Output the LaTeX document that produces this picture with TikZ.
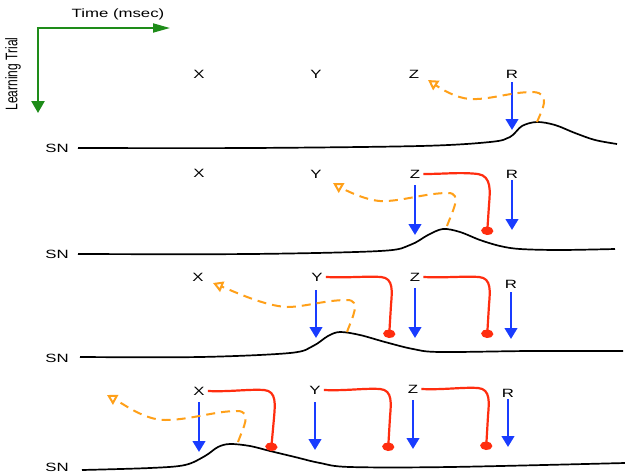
\documentclass[tikz,border=0pt]{standalone}
\usepackage{fontspec}
\setmainfont{Liberation Sans}
\usetikzlibrary{arrows.meta}
\definecolor{ablue}{RGB}{25,60,255}
\definecolor{ared}{RGB}{255,45,15}
\definecolor{aorange}{RGB}{255,160,25}
\definecolor{agreen}{RGB}{30,140,25}
\newcommand{\wide}[1]{\scalebox{1.4}[1]{#1}}
\begin{document}
\begin{tikzpicture}[x=1pt,y=-1pt,
 lbl/.style={inner sep=0pt, font=\fontsize{12}{14}\selectfont},
 excit/.style={ablue, line width=2.6pt, -{Triangle[width=12.5pt,length=11pt]}},
 inhib/.style={ared, line width=2.2pt, -{Circle[width=12pt,length=8.5pt]}},
 trace/.style={aorange, line width=2pt, dash pattern=on 9pt off 6pt, -{Triangle[open,width=11pt,length=10pt]}},
 snline/.style={black, line width=1.7pt},
 haxis/.style={agreen, line width=1.8pt, -{Triangle[width=9pt,length=17pt]}},
 vaxis/.style={agreen, line width=2.5pt, -{Triangle[width=13pt,length=12pt]}}]
\fill[white] (0,0) rectangle (625,475);
\useasboundingbox (0,0) rectangle (625,475);

% axes
\coordinate (orig) at (38,28);
\coordinate (tend) at (170,28);
\coordinate (lend) at (38,113);
\draw[haxis] ([xshift=-1.25pt]orig) -- (tend);
\draw[vaxis] (orig) -- (lend);
\node[lbl] (time) at (118,14) {\wide{Time (msec)}};
\node[lbl, rotate=90] (trial) at (13,74) {\scalebox{1}[1.4]{Learning Trial}};

% ---------- panel 1 ----------
\node[lbl] (aX) at (199,74) {\wide{X}};
\node[lbl] (aY) at (316,74) {\wide{Y}};
\node[lbl] (aZ) at (414,74) {\wide{Z}};
\node[lbl] (aR) at (512,74) {\wide{R}};
\node[lbl] (aSN) at (57,148) {\wide{SN}};
\draw[snline] plot[smooth,tension=0.55] coordinates {(78,148) (250,148) (420,146) (490,142) (510,137) (522,126) (537,122) (555,125) (575,133) (595,140) (617,144)};
\draw[excit] (512,82) -- (512,130);
\draw[trace] (537,122) .. controls (542,110) and (552,93) .. (533,92) .. controls (510,92) and (490,100) .. (470,99) .. controls (455,98) and (440,88) .. (428,80);

% ---------- panel 2 ----------
\node[lbl] (bX) at (199,173) {\wide{X}};
\node[lbl] (bY) at (316,174) {\wide{Y}};
\node[lbl] (bZ) at (415,174) {\wide{Z}};
\node[lbl] (bR) at (512,174) {\wide{R}};
\node[lbl] (bSN) at (57,254) {\wide{SN}};
\draw[snline] plot[smooth,tension=0.55] coordinates {(78,254) (250,254) (380,251) (410,245) (428,235) (443,229) (460,232) (480,240) (500,246) (520,249) (560,250) (615,249)};
\draw[excit] (415,185) -- (415,235);
\draw[excit] (512,180) -- (512,230);
\draw[inhib] (bZ.east) ++(3,0) .. controls (445,174) and (460,172) .. (478,174) .. controls (492,176) and (490,192) .. (489,205) -- (487,235);
\draw[trace] (447,226) .. controls (452,212) and (463,193) .. (448,193) .. controls (425,193) and (400,202) .. (380,201) .. controls (365,200) and (345,190) .. (333,183);

% ---------- panel 3 ----------
\node[lbl] (cX) at (198,277) {\wide{X}};
\node[lbl] (cY) at (317,277) {\wide{Y}};
\node[lbl] (cZ) at (415,277) {\wide{Z}};
\node[lbl] (cR) at (511,284) {\wide{R}};
\node[lbl] (cSN) at (57,358) {\wide{SN}};
\draw[snline] plot[smooth,tension=0.55] coordinates {(80,357) (200,357) (290,353) (313,346) (328,336) (340,332) (360,335) (385,342) (413,349) (440,352) (530,351) (623,351)};
\draw[excit] (316,290) -- (316,338);
\draw[excit] (415,288) -- (415,338);
\draw[excit] (511,292) -- (511,339);
\draw[inhib] (cY.east) ++(3,0) .. controls (350,278) and (365,276) .. (381,277) .. controls (394,278) and (392,292) .. (391,305) -- (389,338);
\draw[inhib] (cZ.east) ++(3,0) .. controls (447,278) and (462,276) .. (479,277) .. controls (492,278) and (490,292) .. (489,305) -- (487,338);
\draw[trace] (347,332) .. controls (352,318) and (362,300) .. (347,300) .. controls (325,300) and (305,307) .. (287,307) .. controls (265,306) and (235,292) .. (213,283);

% ---------- panel 4 ----------
\node[lbl] (dX) at (199,391) {\wide{X}};
\node[lbl] (dY) at (315,390) {\wide{Y}};
\node[lbl] (dZ) at (413,389) {\wide{Z}};
\node[lbl] (dR) at (508,393) {\wide{R}};
\node[lbl] (dSN) at (57,467) {\wide{SN}};
\draw[snline] plot[smooth,tension=0.55] coordinates {(82,470) (150,468) (185,465) (205,456) (218,447) (230,444) (250,446) (270,451) (295,457) (320,463) (350,467) (450,467) (625,463)};
\draw[excit] (199,402) -- (199,452);
\draw[excit] (315,402) -- (315,450);
\draw[excit] (413,400) -- (413,449);
\draw[excit] (508,399) -- (508,447);
\draw[inhib] (dX.east) ++(3,0) .. controls (230,392) and (248,389) .. (264,390) .. controls (277,391) and (275,405) .. (274,418) -- (271,451);
\draw[inhib] (dY.east) ++(3,0) .. controls (346,391) and (364,388) .. (380,389) .. controls (393,390) and (391,404) .. (390,417) -- (388,451);
\draw[inhib] (dZ.east) ++(3,0) .. controls (444,390) and (462,387) .. (478,388) .. controls (491,389) and (489,403) .. (488,416) -- (486,450);
\draw[trace] (238,442) .. controls (243,428) and (253,411) .. (237,411) .. controls (215,411) and (190,420) .. (165,420) .. controls (145,420) and (125,405) .. (107,395);
\end{tikzpicture}
\end{document}
